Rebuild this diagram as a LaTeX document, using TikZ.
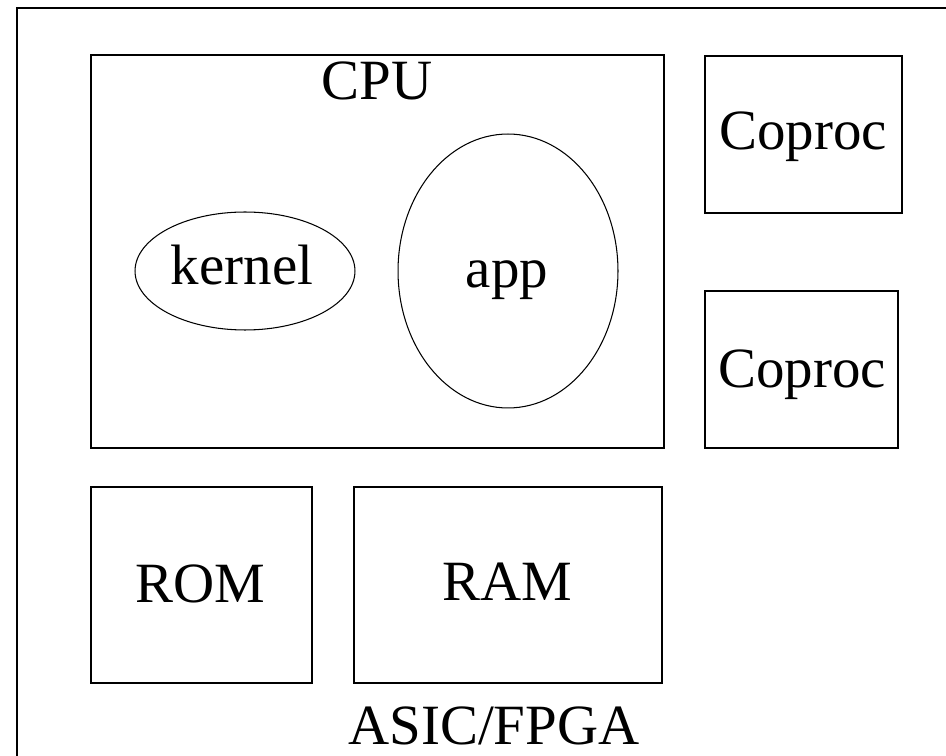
\documentclass[tikz,border=0pt]{standalone}
\usepackage{fontspec}
\setmainfont{Liberation Serif}
\usetikzlibrary{shapes.geometric}

\begin{document}
\begin{tikzpicture}[x=0.02cm, y=-0.02cm]
	\tikzstyle{block} = [
		draw, line width=0.9pt,
		rectangle, inner sep=0pt];
	\tikzstyle{task} = [
		draw, line width=0.6pt,
		ellipse, inner sep=0pt];
	\tikzstyle{blocktext} = [
		anchor=base, inner sep=0pt,
		font={\fontsize{32.4}{36}\selectfont}];

	\useasboundingbox (0,0) rectangle (946,756);
	\clip (0,0) rectangle (946,756);

	% chip outline, runs off the page
	\node[block, anchor=north west, minimum width=19.6cm, minimum height=15.3cm] (chip) at (16,7) {};

	\node[block, minimum width=11.46cm, minimum height=7.86cm] (cpu) at (377.5,251.5) {};
	\node[block, minimum width=3.94cm, minimum height=3.14cm] (coprocA) at (803.5,134.5) {};
	\node[block, minimum width=3.86cm, minimum height=3.14cm] (coprocB) at (801.5,369.5) {};
	\node[block, minimum width=4.42cm, minimum height=3.92cm] (rom) at (201.5,585) {};
	\node[block, minimum width=6.16cm, minimum height=3.92cm] (ram) at (508,585) {};

	\node[task, minimum width=4.4cm, minimum height=2.36cm] (kernel) at (245,271) {};
	\node[task, minimum width=4.4cm, minimum height=5.48cm] (app) at (508,271) {};

	\node[blocktext] (cputext) at (377,100) {CPU};
	\node[blocktext] (coprocAtext) at (803,150) {Coproc};
	\node[blocktext] (coprocBtext) at (802,388) {Coproc};
	\node[blocktext] (kerneltext) at (242,285) {kernel};
	\node[blocktext] (apptext) at (507,288) {app};
	\node[blocktext] (romtext) at (200,602) {ROM};
	\node[blocktext] (ramtext) at (507,600) {RAM};
	\node[blocktext] (chiptext) at (494,744) {ASIC/FPGA};
\end{tikzpicture}
\end{document}
